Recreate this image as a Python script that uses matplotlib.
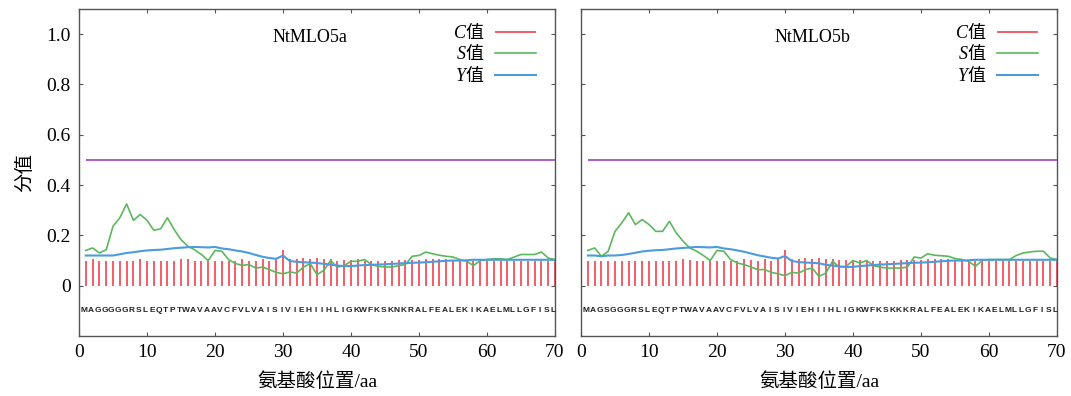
import numpy as np
import matplotlib
matplotlib.use('Agg')
from matplotlib import pyplot as plt

plt.rcParams['font.family'] = ['Liberation Serif', 'Noto Sans CJK SC']
plt.rcParams['mathtext.fontset'] = 'custom'
plt.rcParams['mathtext.it'] = 'Liberation Serif:italic'
plt.rcParams['mathtext.rm'] = 'Noto Sans CJK SC'
plt.rcParams['axes.unicode_minus'] = False

# 数据
pos = np.arange(1, 71)
seq_a = 'MAGGGGGRSLEQTPTWAVAAVCFVLVAISIVIEHIIHLIGKWFKSKNKRALFEALEKIKAELMLLGFISL'
seq_b = 'MAGSGGGRSLEQTPTWAVAAVCFVLVAISIVIEHIIHLIGKWFKSKKKRALFEALEKIKAELMLLGFISL'
titles = ['NtMLO5a', 'NtMLO5b']

c_a = [0.100, 0.107, 0.100, 0.100, 0.100, 0.100, 0.100, 0.100, 0.105, 0.100,
       0.100, 0.100, 0.100, 0.100, 0.105, 0.105, 0.100, 0.100, 0.107, 0.100,
       0.100, 0.100, 0.100, 0.105, 0.100, 0.100, 0.105, 0.100, 0.105, 0.140,
       0.107, 0.105, 0.110, 0.105, 0.110, 0.105, 0.105, 0.100, 0.102, 0.102,
       0.105, 0.100, 0.100, 0.100, 0.100, 0.100, 0.102, 0.102, 0.102, 0.102,
       0.105, 0.105, 0.105, 0.105, 0.102, 0.102, 0.100, 0.100, 0.100, 0.100,
       0.100, 0.100, 0.100, 0.100, 0.100, 0.100, 0.100, 0.100, 0.100, 0.100]
c_b = [0.100, 0.100, 0.098, 0.100, 0.100, 0.100, 0.100, 0.098, 0.100, 0.100,
       0.100, 0.100, 0.100, 0.100, 0.105, 0.102, 0.100, 0.100, 0.107, 0.100,
       0.100, 0.100, 0.100, 0.105, 0.102, 0.100, 0.105, 0.100, 0.105, 0.140,
       0.107, 0.107, 0.110, 0.105, 0.110, 0.105, 0.105, 0.102, 0.102, 0.102,
       0.102, 0.100, 0.100, 0.100, 0.098, 0.100, 0.102, 0.102, 0.102, 0.102,
       0.105, 0.105, 0.105, 0.105, 0.102, 0.102, 0.100, 0.100, 0.100, 0.100,
       0.100, 0.100, 0.100, 0.100, 0.100, 0.100, 0.100, 0.100, 0.100, 0.100]

s_a = [0.140, 0.150, 0.130, 0.143, 0.236, 0.270, 0.325, 0.260, 0.283, 0.260,
       0.220, 0.226, 0.270, 0.223, 0.183, 0.157, 0.143, 0.124, 0.100, 0.140,
       0.137, 0.104, 0.088, 0.081, 0.084, 0.070, 0.074, 0.064, 0.053, 0.047,
       0.055, 0.050, 0.074, 0.088, 0.044, 0.061, 0.100, 0.074, 0.080, 0.097,
       0.097, 0.104, 0.084, 0.077, 0.074, 0.074, 0.080, 0.084, 0.117, 0.120,
       0.134, 0.127, 0.121, 0.117, 0.114, 0.104, 0.097, 0.080, 0.100, 0.104,
       0.107, 0.107, 0.104, 0.114, 0.124, 0.124, 0.124, 0.134, 0.110, 0.104]
s_b = [0.140, 0.150, 0.117, 0.137, 0.216, 0.250, 0.290, 0.243, 0.263, 0.243,
       0.216, 0.216, 0.256, 0.210, 0.177, 0.150, 0.137, 0.120, 0.100, 0.140,
       0.137, 0.104, 0.090, 0.084, 0.074, 0.064, 0.064, 0.053, 0.047, 0.040,
       0.053, 0.050, 0.064, 0.070, 0.037, 0.050, 0.097, 0.074, 0.077, 0.100,
       0.090, 0.100, 0.080, 0.074, 0.070, 0.070, 0.070, 0.074, 0.114, 0.110,
       0.127, 0.121, 0.119, 0.117, 0.108, 0.104, 0.097, 0.077, 0.100, 0.104,
       0.104, 0.104, 0.104, 0.120, 0.130, 0.134, 0.137, 0.137, 0.110, 0.104]

y_a = [0.120, 0.120, 0.120, 0.120, 0.120, 0.125, 0.130, 0.133, 0.137, 0.140,
       0.142, 0.143, 0.146, 0.149, 0.151, 0.153, 0.154, 0.153, 0.152, 0.154,
       0.148, 0.145, 0.140, 0.136, 0.130, 0.122, 0.115, 0.110, 0.107, 0.120,
       0.098, 0.095, 0.093, 0.092, 0.090, 0.087, 0.083, 0.080, 0.078, 0.078,
       0.080, 0.082, 0.083, 0.084, 0.085, 0.087, 0.088, 0.090, 0.091, 0.092,
       0.093, 0.095, 0.097, 0.099, 0.100, 0.100, 0.101, 0.103, 0.103, 0.103,
       0.103, 0.103, 0.103, 0.103, 0.103, 0.103, 0.103, 0.103, 0.103, 0.103]
y_b = [0.120, 0.120, 0.117, 0.120, 0.120, 0.122, 0.126, 0.131, 0.136, 0.139,
       0.141, 0.142, 0.145, 0.148, 0.150, 0.152, 0.154, 0.153, 0.152, 0.154,
       0.148, 0.145, 0.140, 0.135, 0.128, 0.121, 0.116, 0.111, 0.108, 0.118,
       0.098, 0.094, 0.092, 0.091, 0.089, 0.083, 0.080, 0.077, 0.074, 0.075,
       0.078, 0.080, 0.082, 0.084, 0.085, 0.087, 0.088, 0.090, 0.091, 0.092,
       0.093, 0.095, 0.097, 0.099, 0.100, 0.100, 0.101, 0.103, 0.103, 0.103,
       0.103, 0.103, 0.103, 0.103, 0.103, 0.103, 0.103, 0.103, 0.103, 0.103]

cutoff = 0.5

panels = [(seq_a, c_a, s_a, y_a, titles[0]), (seq_b, c_b, s_b, y_b, titles[1])]

fig = plt.figure(figsize=(10.71, 3.96), dpi=100)
lefts = [79 / 1071, 581 / 1071]
w = 476 / 1071
for k, (seq, c, s, yv, title) in enumerate(panels):
    ax = fig.add_axes([lefts[k], 60 / 396, w, 327 / 396])
    ax.vlines(pos, 0, c, color='#f2505a', lw=1.3, label=r'$C\mathrm{值}$')
    ax.plot(pos, s, color='#5cb85c', lw=1.2, label=r'$S\mathrm{值}$')
    ax.plot(pos, yv, color='#4a9be0', lw=1.5, label=r'$Y\mathrm{值}$')
    ax.hlines(cutoff, 1, 70, color='#a050c0', lw=1.3)
    for i, ch in enumerate(seq):
        ax.text(pos[i] - 0.25, -0.1, ch, ha='center', va='center', fontsize=6,
                fontweight='bold', family='Liberation Sans', color='#222222')
    ax.text(34, 0.985, title, ha='center', va='center', fontsize=13)
    ax.set_xlim(0, 70)
    ax.set_ylim(-0.2, 1.1)
    ax.set_xticks(np.arange(0, 71, 10))
    ax.set_yticks([0, 0.2, 0.4, 0.6, 0.8, 1.0])
    ax.set_yticklabels(['0', '0.2', '0.4', '0.6', '0.8', '1.0'])
    ax.tick_params(direction='in', top=True, right=True, length=3, color='#555555',
                   labelsize=14, pad=6)
    for sp in ax.spines.values():
        sp.set_color('#555555')
        sp.set_linewidth(1.0)
    if k == 0:
        ax.set_ylabel('分值', fontsize=14, labelpad=9)
    else:
        ax.set_yticklabels([])
    ax.set_xlabel('氨基酸位置/aa', fontsize=14, labelpad=8)
    ax.legend(loc='upper right', bbox_to_anchor=(0.995, 1.01), frameon=False,
              markerfirst=False, fontsize=13, handlelength=2.3, labelspacing=0.08,
              handletextpad=0.6)

plt.savefig('out.png', dpi=100)
